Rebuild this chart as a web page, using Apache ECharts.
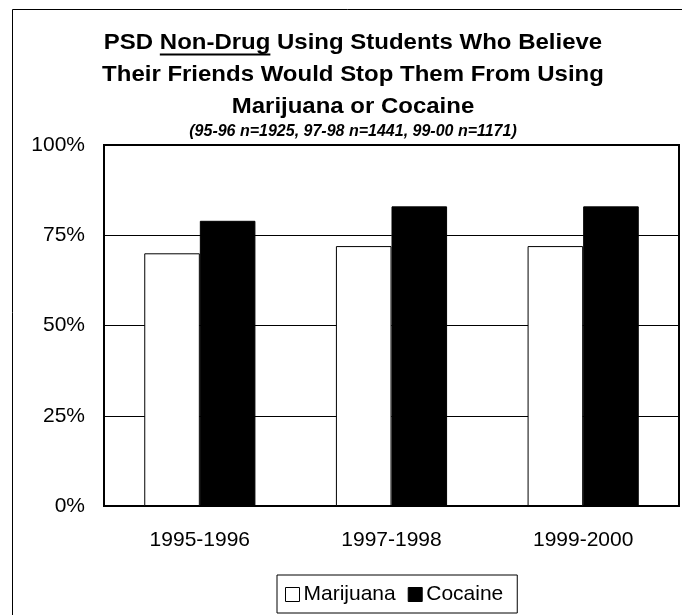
<!DOCTYPE html>
<html>
<head>
<meta charset="utf-8">
<script src="https://cdn.jsdelivr.net/npm/echarts@6/dist/echarts.min.js"></script>
<style>
html,body{margin:0;padding:0;background:#fff;}
#chart{width:682px;height:615px;}
</style>
</head>
<body>
<div id="chart"></div>
<script>
const categories = ['1995-1996', '1997-1998', '1999-2000'];
const marijuana = [70, 72, 72];
const cocaine = [79, 83, 83];
const seriesNames = ['Marijuana', 'Cocaine'];
const titleLines = ['PSD Non-Drug Using Students Who Believe', 'Their Friends Would Stop Them From Using', 'Marijuana or Cocaine'];
const underlinedPrefix = 'PSD ';
const underlinedWord = 'Non-Drug';
const subtitle = '(95-96 n=1925, 97-98 n=1441, 99-00 n=1171)';

const FONT = '"Liberation Sans", Arial, Helvetica, sans-serif';
const titleSize = 22, titleScale = 1.09, cx = 353;

// measure for underline
const ctx = document.createElement('canvas').getContext('2d');
ctx.font = 'bold ' + titleSize + 'px ' + FONT;
const wFull = ctx.measureText(titleLines[0]).width * titleScale;
const wPre = ctx.measureText(underlinedPrefix).width * titleScale;
const wWord = ctx.measureText(underlinedWord).width * titleScale;
const ulX1 = cx - wFull / 2 + wPre;
const ulX2 = ulX1 + wWord;

const chart = echarts.init(document.getElementById('chart'), null, {renderer: 'canvas'});

const titleGraphics = titleLines.map((t, i) => ({
  type: 'text',
  x: cx,
  y: 43 + i * 32,
  scaleX: titleScale,
  style: {
    text: t,
    align: 'center',
    verticalAlign: 'middle',
    font: 'bold ' + titleSize + 'px ' + FONT,
    fill: '#000'
  },
  z: 100
}));

const option = {
  backgroundColor: '#fff',
  animation: false,
  graphic: [
    {
      type: 'rect',
      shape: {x: 12.5, y: 9.5, width: 700, height: 700},
      style: {fill: 'none', stroke: '#000', lineWidth: 1},
      silent: true, z: 0
    },
    ...titleGraphics,
    {
      type: 'line',
      shape: {x1: ulX1, y1: 54.5, x2: ulX2, y2: 54.5},
      style: {stroke: '#000', lineWidth: 2},
      z: 100
    },
    {
      type: 'text',
      x: cx,
      y: 132,
      style: {
        text: subtitle,
        align: 'center',
        verticalAlign: 'middle',
        font: 'italic bold 16px ' + FONT,
        fill: '#000'
      },
      z: 100
    }
  ],
  grid: {
    left: 104, right: 3, top: 145, bottom: 109,
    containLabel: false,
    outerBoundsMode: 'none',
    show: true,
    borderColor: '#000',
    borderWidth: 2,
    backgroundColor: '#fff'
  },
  legend: {
    data: [
      {name: seriesNames[0], icon: 'rect', itemStyle: {color: '#fff', borderColor: '#000', borderWidth: 1}},
      {name: seriesNames[1], icon: 'rect', itemStyle: {color: '#000', borderColor: '#000', borderWidth: 1}}
    ],
    left: 277,
    top: 575,
    orient: 'horizontal',
    padding: [9, 14, 8, 8],
    itemWidth: 14,
    itemHeight: 14,
    itemGap: 12,
    borderColor: '#000',
    borderWidth: 1,
    backgroundColor: '#fff',
    textStyle: {fontSize: 21, color: '#000', fontFamily: FONT, padding: [0, 0, 0, -1]}
  },
  xAxis: {
    type: 'category',
    data: categories,
    axisLine: {show: true, lineStyle: {color: '#000', width: 2}},
    axisTick: {show: false},
    axisLabel: {fontSize: 21, color: '#000', fontFamily: FONT, margin: 24}
  },
  yAxis: {
    type: 'value',
    min: 0, max: 100, interval: 25,
    axisLine: {show: true, lineStyle: {color: '#000', width: 2}},
    axisTick: {show: false},
    axisLabel: {fontSize: 21, color: '#000', fontFamily: FONT, margin: 19, formatter: '{value}%'},
    splitLine: {show: true, lineStyle: {color: '#000', width: 1}}
  },
  series: [
    {
      name: seriesNames[0],
      type: 'bar',
      data: marijuana,
      barGap: '0%',
      barCategoryGap: '42%',
      itemStyle: {color: '#fff', borderColor: '#000', borderWidth: 1}
    },
    {
      name: seriesNames[1],
      type: 'bar',
      data: cocaine,
      barGap: '0%',
      barCategoryGap: '42%',
      itemStyle: {color: '#000', borderColor: '#000', borderWidth: 1}
    }
  ]
};
chart.setOption(option);
</script>
</body>
</html>
